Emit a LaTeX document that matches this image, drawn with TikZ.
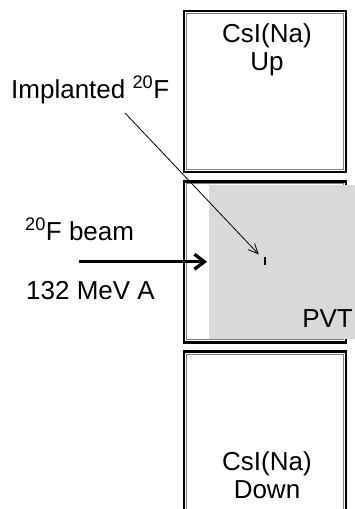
\documentclass[tikz,border=0pt]{standalone}
\usepackage{fontspec}
\setmainfont{Liberation Sans}
\usetikzlibrary{arrows.meta,positioning,calc}

\begin{document}
\begin{tikzpicture}[
    x=1pt, y=-1pt,
    detector/.style={rectangle, draw, line width=2.7pt, minimum width=162pt, minimum height=161pt, inner sep=0},
    lining/.style={draw=gray, line width=1pt},
    plastic/.style={rectangle, fill=gray!30, minimum width=145.5pt, minimum height=154pt, inner sep=0},
    txt/.style={font=\fontsize{26}{30}\selectfont, inner sep=0},
    beam/.style={-{Straight Barb[length=10pt,width=15pt]}, line width=3.3pt},
    pointer/.style={-{Straight Barb[length=10pt,width=9pt]}, line width=0.8pt}
]
    \useasboundingbox (0,0) rectangle (355,509);

    % Detector stack
    \node[detector] (up) at (265,91.5) {};
    \node[detector] (mid) at (265,261.75) {};
    \node[detector] (down) at (265,432) {};
    \foreach \n in {up,mid,down}
        \draw[lining] ($(\n.north west)+(4pt,-4pt)$) rectangle ($(\n.south east)+(-4pt,4pt)$);
    \node[plastic, anchor=west] (scint) at ([xshift=26.5pt]mid.west) {};

    % Labels
    \node[txt, anchor=base] (upname) at ([shift={(2pt,-33pt)}]up.north) {CsI(Na)};
    \node[txt, anchor=base] (uppos) at ([yshift=-28pt]upname.base) {Up};
    \node[txt, anchor=base] (downname) at (267,470) {CsI(Na)};
    \node[txt, anchor=base] (downpos) at ([yshift=-28pt]downname.base) {Down};
    \node[txt, anchor=base east] (pvt) at ([shift={(-2pt,11pt)}]scint.south east) {PVT};
    \node[txt, anchor=base west] (implanted) at (11,98) {Implanted \textsuperscript{20}F};
    \node[txt, anchor=base west] (beamlabel) at (25,240) {\textsuperscript{20}F beam};
    \node[txt, anchor=base west] (energy) at (26,299) {132 MeV A};

    % Beam and implantation point
    \coordinate (gun) at (79,261.75);
    \coordinate (tail) at (125,113);
    \coordinate (ion) at (265,261);
    \draw[beam, shorten >=2pt] (gun) -- (scint.west);
    \draw[pointer, shorten >=9pt] (tail) -- (ion);
    \draw[line width=2.5pt] ([yshift=4pt]ion) -- ([yshift=-4pt]ion);
\end{tikzpicture}
\end{document}
